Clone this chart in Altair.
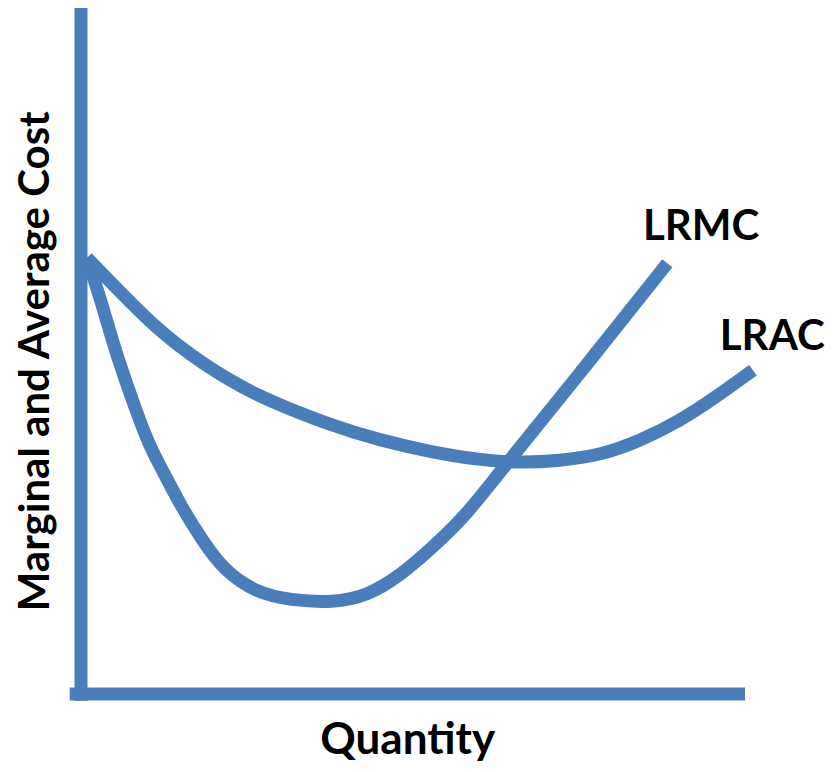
import altair as alt
import pandas as pd

# Curve points (quantity, cost)
lrac_q = [0.9, 5.9, 11.9, 17.9, 25.9, 37.5, 45.0, 52.6, 60.1, 66.1, 72.1, 78.2, 84.2, 90.2, 95.5, 101.2]
lrac_c = [63.6, 58.6, 52.8, 48.4, 43.6, 39.2, 37.0, 35.3, 34.1, 33.7, 34.0, 34.8, 36.9, 39.8, 43.2, 47.2]

lrmc_q = [0.9, 3.0, 5.1, 7.7, 10.2, 12.5, 15.1, 18.2, 21.4, 26.5, 31.5, 38.0, 43.1, 48.0, 53.0, 58.1, 62.1, 75.2, 88.3]
lrmc_c = [63.6, 57.4, 50.2, 42.9, 36.3, 32.2, 27.3, 22.5, 18.1, 14.7, 13.7, 13.3, 14.3, 17.2, 21.4, 26.2, 31.2, 46.8, 62.8]

# Axis lines
vaxis_q = [0, 0]
vaxis_c = [-1, 100]
haxis_q = [-1.7, 100]
haxis_c = [0, 0]

# Labels
curve_labels = ["LRMC", "LRAC"]
curve_label_q = [93.4, 112.0]
curve_label_c = [66.2, 50.1]
x_title = "Quantity"
y_title = "Marginal and Average Cost"

BLUE = "#4A7EBB"
FONT = "Lato"

xs = alt.Scale(domain=[0, 100], nice=False, zero=False)
ys = alt.Scale(domain=[0, 100], nice=False, zero=False)

lrac = pd.DataFrame({"q": lrac_q, "c": lrac_c, "o": range(len(lrac_q))})
lrmc = pd.DataFrame({"q": lrmc_q, "c": lrmc_c, "o": range(len(lrmc_q))})

X = lambda f="q:Q": alt.X(f, scale=xs, axis=None)
Y = lambda f="c:Q": alt.Y(f, scale=ys, axis=None)

vax = alt.Chart(pd.DataFrame({"q": [vaxis_q[0]], "c": [vaxis_c[0]], "c2": [vaxis_c[1]]})).mark_rule(
    color=BLUE, strokeWidth=13, strokeCap="butt"
).encode(x=X(), y=Y(), y2="c2:Q")

hax = alt.Chart(pd.DataFrame({"q": [haxis_q[0]], "q2": [haxis_q[1]], "c": [haxis_c[0]]})).mark_rule(
    color=BLUE, strokeWidth=13, strokeCap="butt"
).encode(x=X(), x2="q2:Q", y=Y())


def curve(df):
    return alt.Chart(df).mark_line(
        color=BLUE, strokeWidth=13, strokeCap="butt", strokeJoin="round",
        interpolate="basis", clip=False
    ).encode(x=X(), y=Y(), order="o:Q")


lab_df = pd.DataFrame({"t": curve_labels, "q": curve_label_q, "c": curve_label_c})
lab_mc = alt.Chart(lab_df.iloc[[0]]).mark_text(
    font=FONT, fontSize=42, fontWeight="bold", color="black", align="center", baseline="alphabetic"
).encode(x=X(), y=Y(), text="t:N")
lab_ac = alt.Chart(lab_df.iloc[[1]]).mark_text(
    font=FONT, fontSize=42, fontWeight="bold", color="black", align="right", baseline="alphabetic"
).encode(x=X(), y=Y(), text="t:N")

xt = alt.Chart(pd.DataFrame({"t": [x_title], "q": [49.2], "c": [-8.75]})).mark_text(
    font=FONT, fontSize=44, fontWeight="bold", color="black", align="center", baseline="alphabetic"
).encode(x=X(), y=Y(), text="t:N")

yt = alt.Chart(pd.DataFrame({"t": [y_title], "q": [-6.8], "c": [48.5]})).mark_text(
    font=FONT, fontSize=42, fontWeight="bold", color="black", align="center", baseline="middle", angle=270
).encode(x=X(), y=Y(), text="t:N")

chart = alt.layer(vax, hax, curve(lrac), curve(lrmc), lab_mc, lab_ac, xt, yt).properties(
    width=664,
    height=686,
    autosize=alt.AutoSizeParams(type="none"),
    padding={"left": 73, "top": 0, "right": 82, "bottom": 70},
    background="white",
).configure_view(stroke=None)

chart.save("out.html", embed_options={"renderer": "svg", "actions": False})
